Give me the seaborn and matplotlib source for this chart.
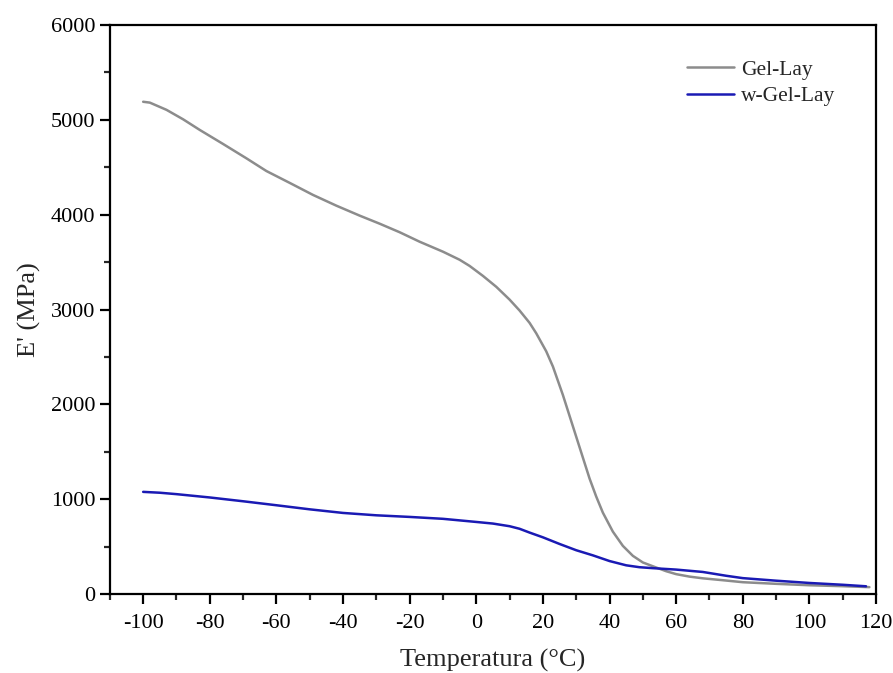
import matplotlib
matplotlib.use("Agg")
import matplotlib.pyplot as plt
from matplotlib.ticker import MultipleLocator
import seaborn as sns
import pandas as pd

sns.set_theme(style="ticks")
plt.rcParams["font.family"] = ["Liberation Serif", "DejaVu Serif"]
plt.rcParams["axes.unicode_minus"] = False

# Gel-Lay storage modulus
gel_temp = [-100, -98, -93, -88, -83, -76, -69, -63, -56, -49, -42, -35, -29,
            -23, -17, -10, -5, -2, 2, 6, 10, 13, 16, 18, 21, 23, 26, 29, 32,
            34, 36, 38, 41, 44, 47, 50, 54, 57, 60, 64, 68, 74, 80, 90, 100,
            110, 118]
gel_mod = [5190, 5181, 5105, 5005, 4893, 4745, 4594, 4460, 4335, 4208, 4095,
           3990, 3905, 3815, 3715, 3610, 3525, 3460, 3355, 3240, 3105, 2990,
           2860, 2750, 2560, 2400, 2100, 1770, 1440, 1220, 1030, 860, 660,
           510, 405, 335, 282, 243, 212, 186, 168, 148, 127, 110, 95, 85, 75]

# w-Gel-Lay storage modulus
wgel_temp = [-100, -95, -90, -80, -70, -60, -50, -40, -30, -20, -10, 0, 5, 10,
             13, 16, 20, 25, 30, 35, 40, 45, 49, 53, 60, 68, 75, 80, 90, 100,
             110, 117]
wgel_mod = [1079, 1070, 1055, 1020, 980, 938, 895, 857, 832, 815, 795, 762,
            745, 717, 690, 650, 600, 530, 464, 410, 350, 305, 285, 275, 260,
            235, 195, 170, 143, 119, 100, 84]

df = pd.concat([
    pd.DataFrame({"T": gel_temp, "E": gel_mod, "sample": "Gel-Lay"}),
    pd.DataFrame({"T": wgel_temp, "E": wgel_mod, "sample": "w-Gel-Lay"}),
])

fig, ax = plt.subplots(figsize=(8.93, 6.73), dpi=100)
fig.subplots_adjust(left=0.123, right=0.981, bottom=0.117, top=0.963)

sns.lineplot(data=df, x="T", y="E", hue="sample", sort=False, ax=ax,
             palette={"Gel-Lay": "#8c8c8c", "w-Gel-Lay": "#1a1ab4"},
             linewidth=1.8)

ax.set_xlim(-110, 120)
ax.set_ylim(0, 6000)
ax.xaxis.set_major_locator(MultipleLocator(20))
ax.xaxis.set_minor_locator(MultipleLocator(10))
ax.yaxis.set_major_locator(MultipleLocator(1000))
ax.yaxis.set_minor_locator(MultipleLocator(500))
ax.tick_params(which="major", length=7, width=1.6, labelsize=16,
               colors="black", direction="out")
ax.tick_params(axis="x", which="major", pad=7)
ax.tick_params(which="minor", length=4, width=1.6, direction="out")
for s in ax.spines.values():
    s.set_linewidth(1.6)
    s.set_color("black")

ax.set_xlabel("Temperatura (°C)", fontsize=19, labelpad=12)
ax.set_ylabel("E' (MPa)", fontsize=19, labelpad=7)

leg = ax.legend(loc="upper right", bbox_to_anchor=(0.972, 0.973), frameon=False,
                fontsize=15.5, handlelength=2.2, handletextpad=0.3,
                labelspacing=0.3, title=None)

fig.savefig("out.png", dpi=100, facecolor="white")
